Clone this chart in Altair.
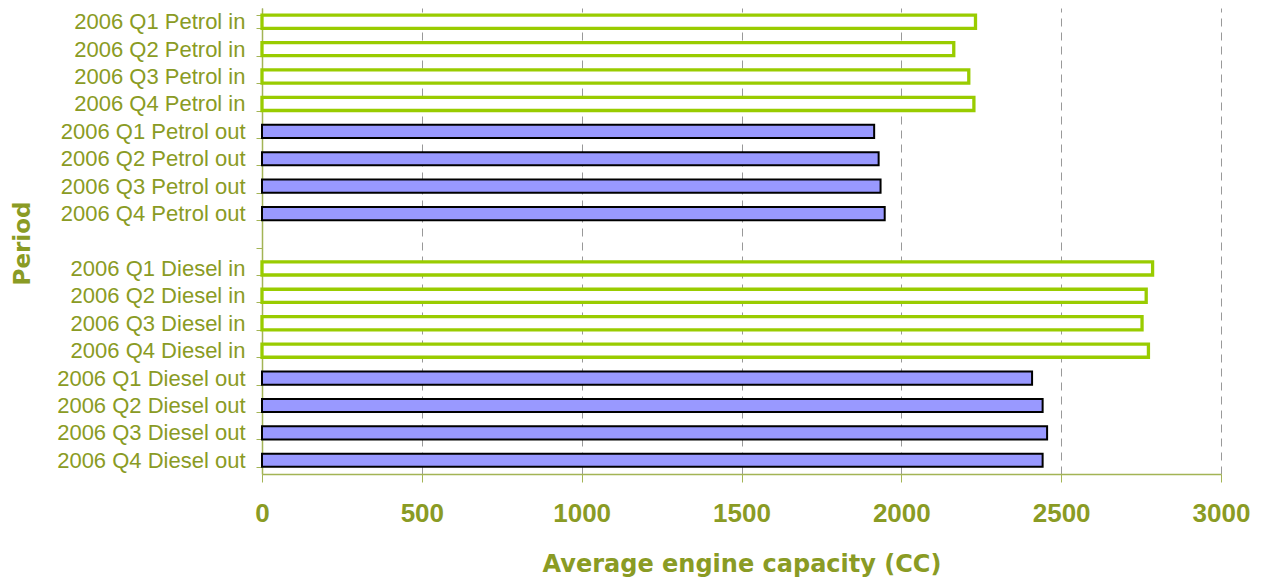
import altair as alt
import pandas as pd

quarters = ["2006 Q1", "2006 Q2", "2006 Q3", "2006 Q4"]
petrol_in = [2232, 2164, 2211, 2227]
petrol_out = [1915, 1929, 1935, 1948]
diesel_in = [2786, 2766, 2753, 2773]
diesel_out = [2409, 2442, 2456, 2442]

groups = [
    ("Petrol in", "in", petrol_in),
    ("Petrol out", "out", petrol_out),
    ("Diesel in", "in", diesel_in),
    ("Diesel out", "out", diesel_out),
]

rows = []
domain = []
for i, (name, kind, vals) in enumerate(groups):
    if i == 2:
        domain.append(" ")
    for q, v in zip(quarters, vals):
        label = f"{q} {name}"
        domain.append(label)
        rows.append({"period": label, "kind": kind, "value": v})
df = pd.DataFrame(rows)

LABEL = "#8A9B24"
AXIS = "#A3B455"

y_enc = alt.Y(
    "period:N",
    sort=domain,
    scale=alt.Scale(domain=domain, paddingInner=0.52, paddingOuter=0.26),
    axis=alt.Axis(
        title="Period",
        titleFont="DejaVu Sans",
        titleFontSize=23,
        titleFontWeight="bold",
        titleColor=LABEL,
        titleAngle=270,
        titleX=-233,
        titleY=235,
        titleBaseline="alphabetic",
        titleAlign="center",
        labelFont="Liberation Sans",
        labelFontSize=22,
        labelColor=LABEL,
        labelPadding=11,
        labelLimit=400,
        tickSize=6,
        tickColor=AXIS,
        tickBand="extent",
        domainColor=AXIS,
        domainWidth=1.5,
        grid=False,
    ),
)

x_enc = alt.X(
    "value:Q",
    scale=alt.Scale(domain=[0, 3000], nice=False),
    axis=alt.Axis(
        title="Average engine capacity (CC)",
        titleFont="DejaVu Sans",
        titleFontSize=24,
        titleFontWeight="bold",
        titleColor=LABEL,
        titleY=97,
        titleBaseline="alphabetic",
        values=[0, 500, 1000, 1500, 2000, 2500, 3000],
        format="d",
        labelFont="Liberation Sans",
        labelFontSize=26,
        labelFontWeight="bold",
        labelColor=LABEL,
        labelPadding=18,
        labelFlush=False,
        tickSize=8,
        tickColor=AXIS,
        domainColor=AXIS,
        domainWidth=1.5,
        grid=True,
        gridColor="#999999",
        gridDash=[8, 6],
        gridWidth=1,
    ),
)

bars_in = (
    alt.Chart(df)
    .transform_filter(alt.datum.kind == "in")
    .mark_bar(fill="white", stroke="#99CC00", strokeWidth=3.3)
    .encode(x=x_enc, y=y_enc)
)

bars_out = (
    alt.Chart(df)
    .transform_filter(alt.datum.kind == "out")
    .mark_bar(fill="#9999FF", stroke="#000000", strokeWidth=2)
    .encode(x=x_enc, y=y_enc)
)

chart = (
    alt.layer(bars_in, bars_out)
    .properties(
        width=959,
        height=466,
        autosize=alt.AutoSizeParams(type="none"),
        padding={"left": 254, "top": 0, "right": 35, "bottom": 103},
    )
    .configure_view(stroke=None)
    .configure_axis(domainCap="butt")
)

chart.save("out.html", embed_options={"renderer": "svg", "actions": False})
